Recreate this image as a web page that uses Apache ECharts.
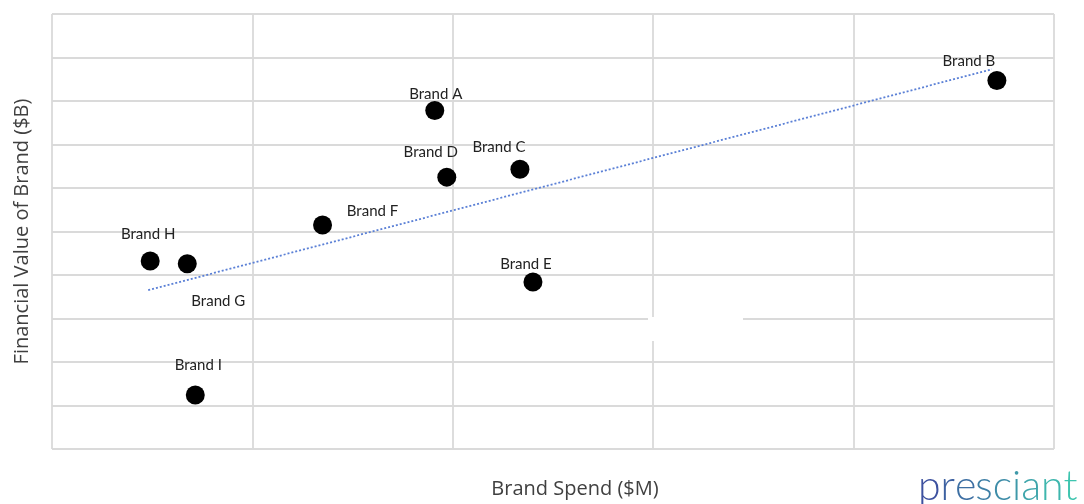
<!DOCTYPE html>
<html>
<head>
<meta charset="utf-8">
<script src="https://cdn.jsdelivr.net/npm/echarts@6/dist/echarts.min.js"></script>
<style>
  html, body { margin: 0; padding: 0; background: #ffffff; }
  #chart { width: 1084px; height: 504px; }
</style>
</head>
<body>
<div id="chart"></div>
<script>
// Brand spend ($M) vs. financial value of brand ($B)
const brands = ['Brand A', 'Brand B', 'Brand C', 'Brand D', 'Brand E', 'Brand F', 'Brand G', 'Brand H', 'Brand I'];
const spend  = [19.1, 47.15, 23.35, 19.7, 24.0, 13.5, 6.75, 4.9, 7.15];
const value  = [7.78, 8.47, 6.43, 6.25, 3.84, 5.15, 4.26, 4.32, 1.24];

// Linear trend line endpoints [spend, value]
const trendStart = [4.8, 3.65];
const trendEnd   = [46.9, 8.73];

// Label placement (pixel offsets relative to each marker)
const labelOffsets = {
  'Brand A': [1, -16],
  'Brand B': [-28, -19],
  'Brand C': [-21, -22],
  'Brand D': [-16, -25],
  'Brand E': [-7, -18],
  'Brand F': [50, -14],
  'Brand G': [31, 37],
  'Brand H': [-2, -27],
  'Brand I': [3, -30]
};

const points = brands.map((name, i) => ({
  name: name,
  value: [spend[i], value[i]],
  label: { offset: labelOffsets[name] }
}));

// Wordmark in the lower right corner, coloured letter by letter
// from indigo to teal.
const logoText = 'presciant';
const logoFont = '300 41px Lato';
const logoX = 918;
const logoTop = 466;
const logoFrom = [61, 72, 158];
const logoTo = [62, 203, 176];

function logoLetters() {
  const ctx = document.createElement('canvas').getContext('2d');
  ctx.font = logoFont;
  const total = ctx.measureText(logoText).width;
  const items = [];
  for (let i = 0; i < logoText.length; i++) {
    const before = ctx.measureText(logoText.slice(0, i)).width;
    const w = ctx.measureText(logoText[i]).width;
    const t = (before + w / 2) / total;
    const c = logoFrom.map((a, k) => Math.round(a + (logoTo[k] - a) * t));
    items.push({
      type: 'text',
      x: logoX + before,
      y: logoTop,
      silent: true,
      style: {
        text: logoText[i],
        font: logoFont,
        fill: 'rgb(' + c.join(',') + ')'
      }
    });
  }
  return items;
}

// Blank patch over the grid, right of the 30 $M line
const blankPatch = {
  type: 'rect',
  silent: true,
  z: 5,
  shape: { x: 648, y: 317, width: 95, height: 24 },
  style: { fill: '#ffffff' }
};

const chart = echarts.init(document.getElementById('chart'), null, { renderer: 'canvas' });

const gridColor = '#dadada';

chart.setOption({
  animation: false,
  backgroundColor: '#ffffff',
  grid: { left: 52, right: 30, top: 14, bottom: 53 },
  xAxis: {
    type: 'value',
    min: 0, max: 50, interval: 10,
    name: 'Brand Spend ($M)',
    nameLocation: 'middle',
    nameGap: 30,
    nameTextStyle: { fontFamily: 'Open Sans', fontSize: 20, color: '#404040', padding: [0, 0, 0, 44] },
    axisLine: { show: false },
    axisTick: { show: false },
    axisLabel: { show: false },
    splitLine: { show: true, lineStyle: { color: gridColor, width: 1.8 } }
  },
  yAxis: {
    type: 'value',
    min: 0, max: 10, interval: 1,
    name: 'Financial Value of Brand ($B)',
    nameLocation: 'middle',
    nameGap: 20,
    nameTextStyle: { fontFamily: 'Open Sans', fontSize: 20, color: '#404040' },
    axisLine: { show: false },
    axisTick: { show: false },
    axisLabel: { show: false },
    splitLine: { show: true, lineStyle: { color: gridColor, width: 1.8 } }
  },
  series: [
    {
      type: 'line',
      data: [trendStart, trendEnd],
      symbol: 'none',
      silent: true,
      z: 1,
      lineStyle: { color: '#5b80d6', width: 1.8, type: [2, 2] }
    },
    {
      type: 'scatter',
      data: points,
      symbol: 'circle',
      symbolSize: 19,
      z: 3,
      itemStyle: { color: '#000000', opacity: 1 },
      label: {
        show: true,
        position: 'inside',
        formatter: '{b}',
        fontFamily: 'Lato',
        fontSize: 15,
        color: '#222222'
      }
    }
  ],
  graphic: [blankPatch].concat(logoLetters())
});
</script>
</body>
</html>
